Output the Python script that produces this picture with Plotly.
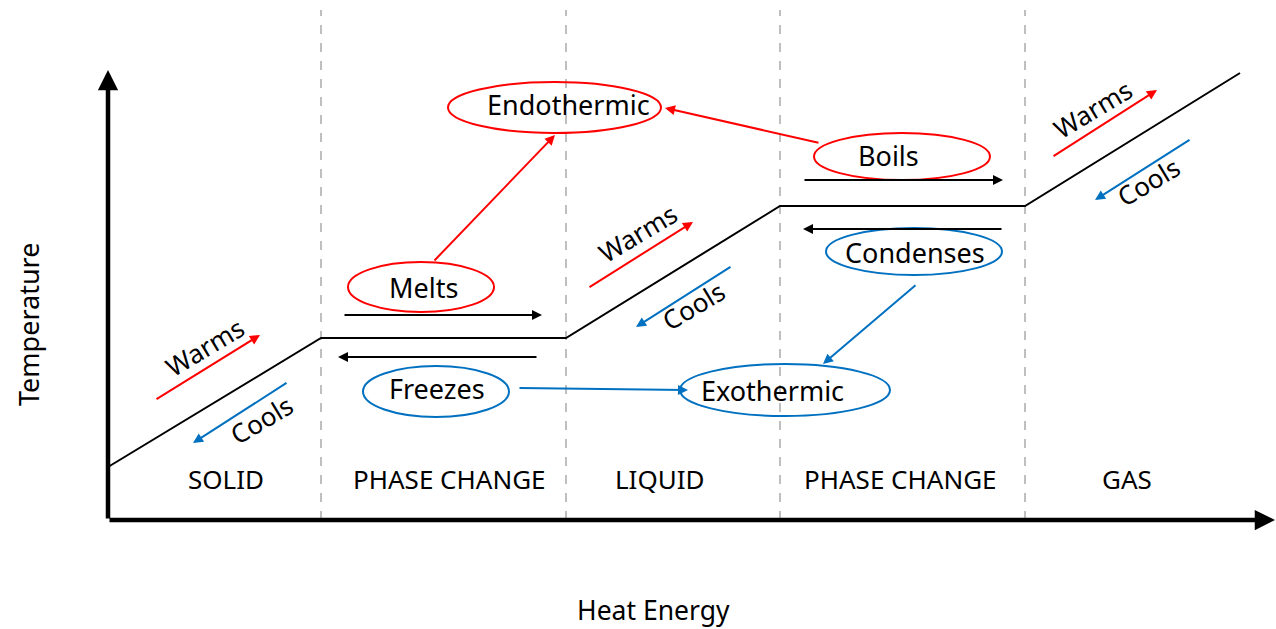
import plotly.graph_objects as go

# ---- data (heat energy vs temperature, arbitrary units) ----
heat_energy = [0, 21.3, 45.8, 67.2, 91.7, 113.2]
temperature = [5.3, 18.2, 18.2, 31.4, 31.4, 44.7]
phase_boundaries = [21.3, 45.8, 67.2, 91.7]
phase_names = ["SOLID", "PHASE CHANGE", "LIQUID", "PHASE CHANGE", "GAS"]
phase_label_x = [11.8, 34.1, 55.2, 79.2, 101.9]

RED = "#FF0000"
BLUE = "#0070C0"
FONT = "Noto Sans"

fig = go.Figure()

# dashed phase boundaries
for b in phase_boundaries:
    fig.add_trace(go.Scatter(x=[b, b], y=[0, 51.0], mode="lines",
                             line=dict(color="#BFBFBF", width=2, dash="dash"),
                             hoverinfo="skip", showlegend=False))

# heating curve
fig.add_trace(go.Scatter(x=heat_energy, y=temperature, mode="lines",
                         line=dict(color="black", width=2), showlegend=False))

ann = []

def arrow(tail, head, color, width=2, size=1.0):
    ann.append(dict(x=head[0], y=head[1], ax=tail[0], ay=tail[1], xref="x", yref="y",
                    axref="x", ayref="y", text="", showarrow=True, arrowhead=2,
                    arrowsize=size, arrowwidth=width, arrowcolor=color, standoff=0,
                    startstandoff=0))

def label(x, y, text, size=25, angle=0):
    ann.append(dict(x=x, y=y, xref="x", yref="y", text=text, showarrow=False,
                    textangle=angle, font=dict(family=FONT, size=size, color="black")))

# axes with arrowheads
arrow((0, 0), (0, 45.0), "black", width=4.5, size=0.9)
arrow((0, 0), (116.7, 0), "black", width=4.5, size=0.9)

# phase labels
for name, x in zip(phase_names, phase_label_x):
    label(x, 4.1, name, size=26)

# warms (red) arrows and labels
arrow((4.7, 12.0), (15.2, 18.5), RED)
arrow((48.0, 23.2), (58.5, 29.8), RED)
arrow((94.4, 36.3), (104.9, 43.0), RED)
label(9.7, 17.3, "Warms", size=26, angle=-31)
label(53.0, 28.7, "Warms", size=26, angle=-31)
label(98.5, 41.1, "Warms", size=26, angle=-31)

# cools (blue) arrows and labels
arrow((18.0, 13.8), (8.5, 7.7), BLUE)
arrow((62.4, 25.4), (52.8, 19.3), BLUE)
arrow((108.3, 38.1), (98.7, 32.0), BLUE)
label(15.3, 10.0, "Cools", size=26, angle=-31)
label(58.5, 21.4, "Cools", size=26, angle=-31)
label(104.0, 33.8, "Cools", size=26, angle=-31)

# horizontal black arrows in phase changes
arrow((23.5, 20.5), (43.4, 20.5), "black")
arrow((43.0, 16.3), (23.0, 16.3), "black")
arrow((69.5, 34.0), (89.5, 34.0), "black")
arrow((89.5, 29.1), (69.5, 29.1), "black")

# ellipses
ellipses = [
    ("Melts", 24.0, 38.6, 20.8, 25.8, RED, 31.5, 23.3),
    ("Freezes", 25.5, 40.1, 10.3, 15.4, BLUE, 32.9, 13.2),
    ("Endothermic", 34.0, 55.3, 38.7, 43.8, RED, 46.0, 41.6),
    ("Boils", 70.6, 88.2, 34.0, 38.7, RED, 78.0, 36.5),
    ("Condenses", 71.8, 89.4, 24.5, 29.2, BLUE, 80.7, 26.8),
    ("Exothermic", 57.2, 78.2, 10.4, 15.6, BLUE, 66.4, 13.0),
]
shapes = []
for name, x0, x1, y0, y1, col, tx, ty in ellipses:
    shapes.append(dict(type="circle", xref="x", yref="y", x0=x0, x1=x1, y0=y0, y1=y1,
                       line=dict(color=col, width=2), layer="above"))
    label(tx, ty, name, size=27)

# connecting arrows
arrow((32.5, 25.8), (44.7, 38.5), RED)
arrow((71.2, 37.7), (55.7, 41.2), RED)
arrow((41.0, 13.2), (58.0, 13.0), BLUE)
arrow((80.9, 23.6), (71.5, 15.6), BLUE)

# axis titles
label(-8.0, 19.5, "Temperature", size=27, angle=-90)
label(54.5, -9.0, "Heat Energy", size=26.5)

fig.update_layout(
    width=1276, height=629,
    margin=dict(l=0, r=0, t=0, b=0),
    paper_bgcolor="white", plot_bgcolor="white",
    xaxis=dict(range=[-10.8, 116.8], visible=False, fixedrange=True),
    yaxis=dict(range=[-10.9, 52.0], visible=False, fixedrange=True),
    shapes=shapes, annotations=ann, showlegend=False,
)

fig.write_html("out.html", config={"displayModeBar": False},
               post_script="document.body.style.margin='0';document.body.style.overflow='hidden';")
